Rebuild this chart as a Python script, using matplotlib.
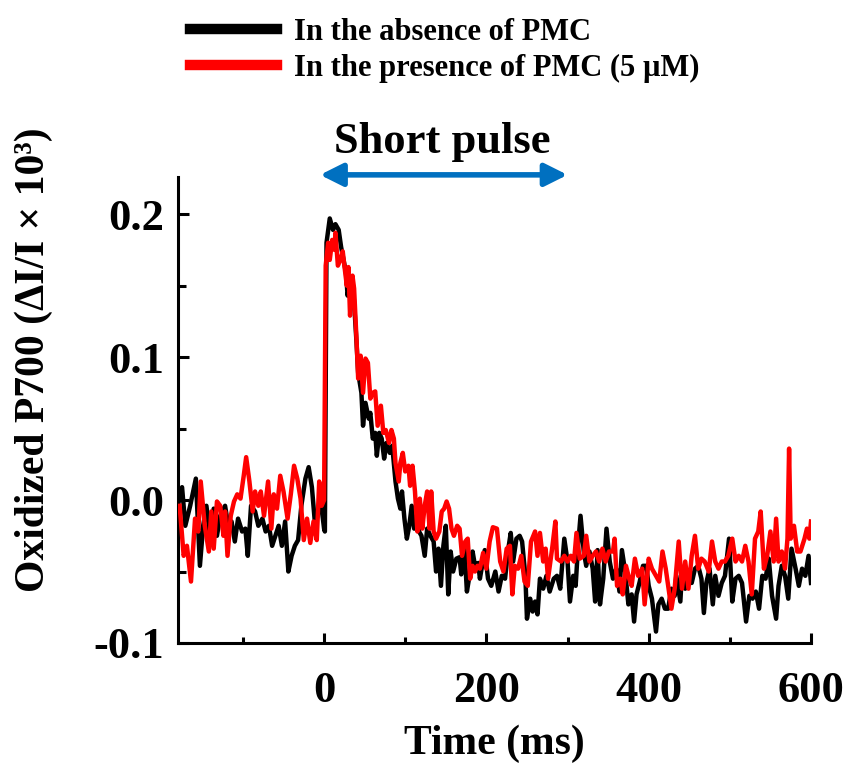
import matplotlib
matplotlib.use("Agg")
import matplotlib.pyplot as plt
from matplotlib.ticker import MultipleLocator

plt.rcParams['font.family'] = ['Liberation Serif', 'DejaVu Serif']
plt.rcParams['font.weight'] = 'bold'

# ---- data (time in ms, signal) ----
black_t = [-179, -175, -171, -165, -158, -153, -149, -145, -140, -136, -132, -128, -122, -118, -114, -110,
           -106, -101, -97, -94, -90, -85, -81, -76, -72, -68, -64, -60, -56, -52, -48, -44, -40, -36, -32,
           -28, -23, -19, -15, -11, -7, -3, 0, 1, 3, 7, 11, 14, 18, 21, 24, 27, 29, 32, 35, 37, 40, 42, 46,
           48, 51, 55, 57, 60, 63, 65, 68, 71, 74, 77, 81, 84, 88, 91, 94, 96, 99, 102, 105, 108, 111, 114,
           117, 120, 124, 127, 131, 135, 138, 141, 144, 147, 150, 153, 156, 159, 163, 167, 169, 173, 176,
           180, 183, 186, 190, 192, 198, 202, 206, 211, 215, 219, 223, 227, 230, 233, 237, 241, 244, 248,
           250, 254, 257, 260, 263, 266, 270, 274, 278, 283, 287, 291, 296, 300, 303, 307, 310, 313, 316,
           320, 323, 327, 331, 334, 337, 340, 344, 348, 352, 356, 360, 364, 367, 371, 375, 379, 382, 385,
           389, 393, 397, 400, 404, 409, 412, 416, 420, 424, 428, 432, 434, 439, 441, 445, 449, 453, 457,
           461, 465, 468, 471, 475, 479, 482, 486, 490, 494, 499, 503, 507, 511, 515, 520, 524, 528, 532,
           536, 540, 544, 548, 552, 557, 560, 564, 568, 572, 576, 581, 585, 589, 593, 597, 600]
black_v = [-0.001, 0.009, -0.018, -0.004, 0.015, -0.046, -0.018, -0.004, -0.028, -0.006, -0.025, -0.011,
           -0.004, -0.018, -0.015, -0.029, -0.013, -0.022, -0.020, -0.039, -0.004, -0.008, -0.018, -0.013,
           -0.022, -0.018, -0.032, -0.025, -0.018, -0.032, -0.015, -0.050, -0.039, -0.032, -0.028, -0.004,
           0.015, 0.023, 0.009, -0.018, -0.008, -0.006, -0.020, -0.022, 0.180, 0.197, 0.189, 0.193, 0.189,
           0.177, 0.168, 0.159, 0.143, 0.154, 0.154, 0.138, 0.110, 0.089, 0.075, 0.052, 0.068, 0.057, 0.061,
           0.043, 0.047, 0.031, 0.047, 0.043, 0.029, 0.040, 0.033, 0.038, 0.013, 0.001, -0.006, 0.006,
           -0.013, -0.027, -0.018, -0.004, -0.020, -0.013, -0.022, -0.025, -0.039, -0.020, -0.025, -0.029,
           -0.050, -0.034, -0.060, -0.032, -0.018, -0.066, -0.036, -0.050, -0.041, -0.040, -0.052, -0.034,
           -0.064, -0.050, -0.036, -0.046, -0.044, -0.055, -0.035, -0.055, -0.060, -0.050, -0.064, -0.053,
           -0.055, -0.034, -0.023, -0.043, -0.027, -0.025, -0.029, -0.053, -0.083, -0.069, -0.078, -0.071,
           -0.080, -0.055, -0.062, -0.053, -0.064, -0.055, -0.053, -0.062, -0.027, -0.043, -0.071, -0.053,
           -0.060, -0.032, -0.011, -0.036, -0.046, -0.036, -0.048, -0.071, -0.035, -0.073, -0.055, -0.020,
           -0.043, -0.055, -0.048, -0.064, -0.035, -0.050, -0.073, -0.066, -0.085, -0.066, -0.057, -0.046,
           -0.046, -0.060, -0.069, -0.092, -0.073, -0.069, -0.076, -0.076, -0.062, -0.067, -0.053, -0.071,
           -0.051, -0.062, -0.051, -0.058, -0.048, -0.046, -0.055, -0.079, -0.058, -0.048, -0.073, -0.053,
           -0.067, -0.058, -0.053, -0.027, -0.071, -0.055, -0.053, -0.058, -0.085, -0.067, -0.069, -0.064,
           -0.076, -0.053, -0.055, -0.041, -0.067, -0.083, -0.060, -0.046, -0.053, -0.069, -0.034, -0.048,
           -0.060, -0.048, -0.053, -0.039, -0.058]

red_t = [-178, -176, -173, -169, -164, -159, -155, -152, -147, -142, -139, -136, -132, -128, -124, -122,
         -119, -115, -111, -107, -103, -99, -96, -92, -88, -85, -81, -78, -74, -69, -65, -62, -58, -54, -50,
         -45, -41, -37, -33, -29, -25, -21, -17, -13, -9, -6, -3, 0, 2, 5, 7, 10, 13, 14, 17, 20, 23, 25,
         28, 30, 32, 35, 37, 40, 42, 45, 48, 51, 54, 57, 60, 63, 66, 70, 73, 76, 80, 83, 86, 88, 92, 94, 97,
         100, 104, 106, 109, 112, 115, 118, 121, 124, 127, 130, 132, 135, 138, 142, 145, 148, 151, 154, 157,
         160, 164, 167, 170, 174, 177, 180, 183, 186, 189, 192, 196, 200, 204, 208, 213, 217, 221, 225, 229,
         232, 235, 239, 243, 247, 251, 255, 260, 263, 266, 270, 273, 276, 281, 285, 287, 292, 296, 300, 304,
         308, 311, 315, 320, 323, 327, 331, 335, 339, 343, 347, 351, 356, 358, 361, 365, 368, 372, 376, 379,
         383, 387, 392, 395, 400, 404, 409, 413, 417, 421, 425, 428, 432, 437, 441, 445, 449, 453, 457, 461,
         465, 469, 474, 478, 482, 486, 490, 494, 498, 503, 507, 511, 515, 519, 523, 527, 531, 535, 538, 542,
         546, 550, 554, 557, 560, 564, 568, 571, 573, 575, 579, 583, 587, 592, 595, 598, 600]
red_v = [-0.004, -0.018, -0.039, -0.032, -0.057, -0.013, -0.022, 0.013, -0.018, -0.036, -0.008, -0.034,
         -0.001, -0.004, -0.025, -0.008, -0.039, -0.011, -0.001, 0.004, 0.001, 0.017, 0.030, 0.013, -0.008,
         0.006, -0.004, 0.006, -0.011, 0.013, -0.020, 0.004, -0.006, 0.017, 0.006, -0.013, 0.004, 0.024,
         0.015, 0.001, -0.028, -0.013, -0.030, -0.015, -0.028, 0.013, -0.004, 0.000, 0.164, 0.180, 0.168,
         0.182, 0.175, 0.187, 0.164, 0.168, 0.174, 0.164, 0.150, 0.163, 0.129, 0.157, 0.148, 0.112, 0.085,
         0.101, 0.075, 0.099, 0.096, 0.071, 0.075, 0.076, 0.052, 0.066, 0.047, 0.049, 0.040, 0.049, 0.043,
         0.026, 0.013, 0.026, 0.033, 0.020, 0.024, 0.010, 0.024, 0.006, -0.022, 0.001, -0.020, -0.004,
         0.006, -0.020, 0.006, -0.022, -0.027, -0.022, -0.008, -0.006, -0.001, -0.006, -0.020, -0.025,
         -0.018, -0.020, -0.039, -0.029, -0.027, -0.055, -0.046, -0.050, -0.046, -0.048, -0.037, -0.048,
         -0.029, -0.019, -0.020, -0.043, -0.050, -0.034, -0.032, -0.066, -0.046, -0.048, -0.039, -0.057,
         -0.060, -0.029, -0.022, -0.039, -0.023, -0.043, -0.034, -0.055, -0.034, -0.015, -0.041, -0.043,
         -0.039, -0.043, -0.039, -0.043, -0.023, -0.041, -0.039, -0.025, -0.043, -0.039, -0.036, -0.043,
         -0.034, -0.043, -0.036, -0.036, -0.027, -0.060, -0.055, -0.066, -0.046, -0.055, -0.060, -0.041,
         -0.053, -0.048, -0.073, -0.041, -0.048, -0.053, -0.057, -0.036, -0.048, -0.064, -0.076, -0.062,
         -0.029, -0.062, -0.043, -0.062, -0.039, -0.025, -0.048, -0.041, -0.043, -0.050, -0.029, -0.043,
         -0.048, -0.043, -0.043, -0.039, -0.027, -0.043, -0.039, -0.043, -0.032, -0.043, -0.066, -0.027,
         -0.022, -0.008, -0.048, -0.039, -0.022, -0.043, -0.013, -0.043, -0.036, -0.048, -0.027, 0.036,
         -0.027, -0.018, -0.036, -0.036, -0.027, -0.020, -0.027, -0.015]

labels = ["In the absence of PMC", "In the presence of PMC (5 \u00b5M)"]
x_ticks = [0, 200, 400, 600]
y_ticks = [-0.1, 0.0, 0.1, 0.2]
y_ticklabels = ["-0.1", "0.0", "0.1", "0.2"]
pulse_range = (0, 300)

fig = plt.figure(figsize=(8.51, 7.63), dpi=100)
ax = fig.add_axes([178/851, 1-643/763, (811-178)/851, (643-177)/763])

l1, = ax.plot(black_t, black_v, color='black', lw=3.2, label=labels[0], zorder=2)
l2, = ax.plot(red_t, red_v, color='#ff0000', lw=3.2, label=labels[1], zorder=3)

ax.set_xlim(-180, 600)
ax.set_ylim(-0.1, 0.226)
ax.set_xticks(x_ticks)
ax.set_yticks(y_ticks)
ax.set_yticklabels(y_ticklabels)
ax.xaxis.set_minor_locator(MultipleLocator(100))
ax.yaxis.set_minor_locator(MultipleLocator(0.05))
for s in ['top', 'right']:
    ax.spines[s].set_visible(False)
for s in ['left', 'bottom']:
    ax.spines[s].set_linewidth(2.2)
ax.tick_params(which='both', direction='in', width=2.2, labelsize=32)
ax.tick_params(axis='x', which='major', length=7, pad=20)
ax.tick_params(axis='x', which='minor', length=4)
ax.tick_params(axis='y', which='major', length=8, pad=10)
ax.tick_params(axis='y', which='minor', length=6)
for lab in ax.get_xticklabels() + ax.get_yticklabels():
    lab.set_fontweight('bold')

ax.set_xlabel("Time (ms)", fontsize=30, fontweight='bold', labelpad=10)
ax.set_ylabel("Oxidized P700 (\u0394I/I \u00d7 10\u00b3)", fontsize=30, fontweight='bold')
ax.yaxis.set_label_coords(-0.198, 0.607)

# short pulse arrow
ax.annotate("", xy=(pulse_range[0] - 5, 0.2275), xytext=(pulse_range[1], 0.2275),
            xycoords='data', textcoords='data', annotation_clip=False,
            arrowprops=dict(arrowstyle='<|-|>', color='#0070c0', lw=4,
                            mutation_scale=34, shrinkA=0, shrinkB=0))
ax.text((pulse_range[0] + pulse_range[1]) / 2 - 4, 0.2505, "Short pulse", fontsize=32,
        fontweight='bold', ha='center', va='center', clip_on=False)

leg = fig.legend(handles=[l1, l2], loc='upper left', bbox_to_anchor=(190/851, 1-18/763),
                 frameon=False, prop={'weight': 'bold', 'size': 22},
                 handlelength=2.85, handletextpad=0.55, labelspacing=0.22,
                 borderpad=0, borderaxespad=0)
for h in leg.legend_handles:
    h.set_linewidth(7.5)

fig.savefig("out.png", dpi=100)
